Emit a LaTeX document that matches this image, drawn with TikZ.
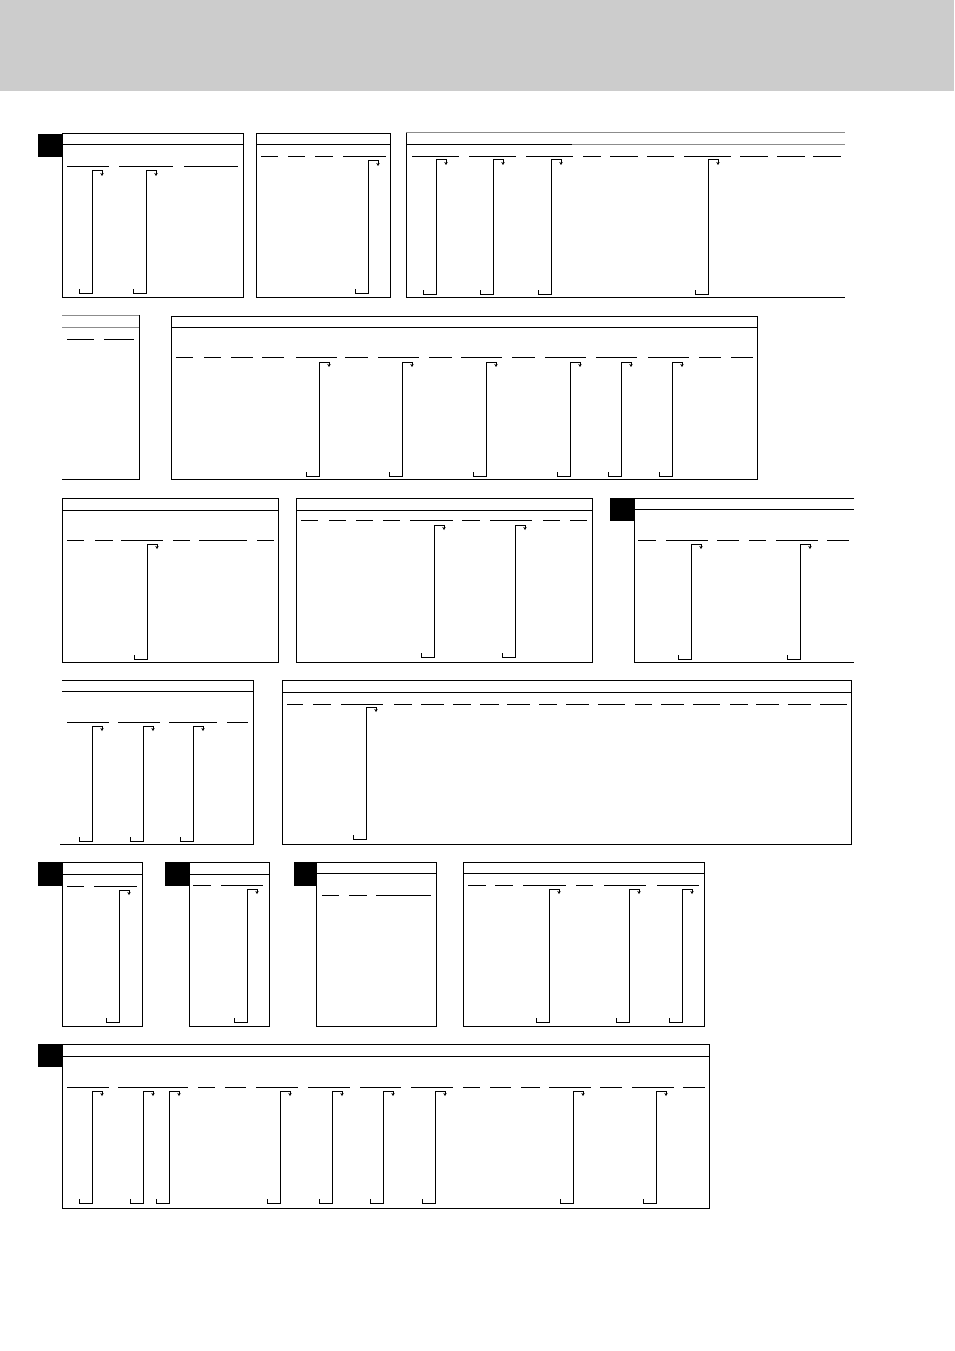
\documentclass[tikz,border=0pt]{standalone}
\usetikzlibrary{arrows.meta}
\definecolor{band}{HTML}{CCCCCC}
\definecolor{faded}{HTML}{8C8C8C}
\tikzset{
  rule/.style={line width=1pt},
  frame/.style={draw, line width=1pt},
  tab/.style={fill=black},
  hook/.style={line width=1pt, -{Stealth[length=3pt,width=3.4pt]}}
}
\newcommand\hookline[3]{%
  \draw[hook] (#1-13,#3-4) -- (#1-13,#3) -- (#1,#3) -- (#1,#2) -- (#1+10,#2) -- (#1+10,#2+5);}
\begin{document}
\begin{tikzpicture}[x=1pt,y=-1pt]
\useasboundingbox (0,0) rectangle (954,1351);
\fill[band] (0,0) rectangle (954,91);

\fill[tab] (38,134) rectangle (62,157);
\draw[frame] (62,134) rectangle (243,297);
\draw[rule] (62,145) -- (243,145);
\foreach \a/\b in {67/109, 119/173, 184/238}
  \draw[rule] (\a,167) -- (\b,167);
\foreach \v in {92, 146}
  {\hookline{\v}{171}{293}}

\draw[frame] (256,134) rectangle (390,297);
\draw[rule] (256,145) -- (390,145);
\foreach \a/\b in {261/278, 288/305, 315/333, 343/386}
  \draw[rule] (\a,157) -- (\b,157);
\hookline{368}{161}{293}

\draw[rule, faded] (406,133) -- (845,133);
\draw[rule] (406,133) -- (406,297) -- (845,297);
\draw[rule] (406,145) -- (572,145);
\draw[rule, faded] (572,145) -- (845,145);
\foreach \a/\b in {412/459, 469/516, 526/573, 583/601, 610/638, 647/674, 684/731, 740/768, 777/805, 813/841}
  \draw[rule] (\a,157) -- (\b,157);
\foreach \v in {436, 493, 551, 708}
  {\hookline{\v}{160}{294}}

\draw[rule, faded] (62,315) -- (139,315);
\draw[rule, faded] (62,327) -- (139,327);
\draw[rule] (139,315) -- (139,479) -- (62,479);
\foreach \a/\b in {67/94, 104/134}
  \draw[rule] (\a,339) -- (\b,339);

\draw[frame] (171,316) rectangle (757,479);
\draw[rule] (171,327) -- (757,327);
\foreach \a/\b in {176/193, 204/221, 231/253, 262/284, 296/337, 345/368, 378/419, 429/452, 461/502, 512/535, 545/586, 596/637, 648/689, 699/721, 731/753}
  \draw[rule] (\a,357) -- (\b,357);
\foreach \v in {319, 402, 486, 570, 621, 672}
  {\hookline{\v}{362}{476}}

\draw[frame] (62,498) rectangle (278,662);
\draw[rule] (62,510) -- (278,510);
\foreach \a/\b in {67/84, 95/113, 121/163, 173/190, 199/247, 257/274}
  \draw[rule] (\a,540) -- (\b,540);
\hookline{147}{544}{659}

\draw[frame] (296,498) rectangle (592,662);
\draw[rule] (296,510) -- (592,510);
\foreach \a/\b in {301/318, 329/346, 356/373, 383/400, 410/453, 462/480, 490/532, 543/560, 570/587}
  \draw[rule] (\a,520) -- (\b,520);
\foreach \v in {434, 515}
  {\hookline{\v}{525}{657}}

\fill[tab] (610,498) rectangle (634,521);
\draw[rule] (854,498) -- (634,498) -- (634,662) -- (854,662);
\draw[rule] (634,509) -- (854,509);
\foreach \a/\b in {638/656, 666/708, 717/739, 749/766, 776/818, 827/849}
  \draw[rule] (\a,540) -- (\b,540);
\foreach \v in {691, 800}
  {\hookline{\v}{544}{659}}

\draw[rule] (62,680) -- (253,680) -- (253,844) -- (60,844);
\draw[rule] (62,691) -- (253,691);
\foreach \a/\b in {67/109, 118/160, 169/217, 227/248}
  \draw[rule] (\a,722) -- (\b,722);
\foreach \v in {92, 143, 193}
  {\hookline{\v}{726}{841}}

\draw[frame] (282,680) rectangle (851,844);
\draw[rule] (282,692) -- (851,692);
\foreach \a/\b in {287/303, 313/331, 341/383, 394/412, 421/444, 453/471, 480/499, 507/530, 539/557, 566/589, 598/625, 635/652, 661/684, 693/720, 730/748, 756/779, 788/811, 820/847}
  \draw[rule] (\a,704) -- (\b,704);
\hookline{366}{707}{839}

\fill[tab] (38,862) rectangle (62,886);
\draw[frame] (62,862) rectangle (142,1026);
\draw[rule] (62,874) -- (142,874);
\foreach \a/\b in {67/84, 94/137}
  \draw[rule] (\a,886) -- (\b,886);
\hookline{119}{890}{1022}

\fill[tab] (165,862) rectangle (189,886);
\draw[frame] (189,862) rectangle (269,1026);
\draw[rule] (189,874) -- (269,874);
\foreach \a/\b in {193/211, 221/263}
  \draw[rule] (\a,885) -- (\b,885);
\hookline{247}{889}{1022}

\fill[tab] (294,862) rectangle (316,886);
\draw[frame] (316,862) rectangle (436,1026);
\draw[rule] (316,873) -- (436,873);
\foreach \a/\b in {322/339, 349/367, 376/431}
  \draw[rule] (\a,895) -- (\b,895);

\draw[frame] (463,862) rectangle (704,1026);
\draw[rule] (463,873) -- (704,873);
\foreach \a/\b in {468/486, 495/513, 523/566, 576/593, 604/646, 657/699}
  \draw[rule] (\a,885) -- (\b,885);
\foreach \v in {549, 629, 682}
  {\hookline{\v}{889}{1022}}

\fill[tab] (38,1044) rectangle (62,1067);
\draw[frame] (62,1044) rectangle (709,1208);
\draw[rule] (62,1056) -- (709,1056);
\foreach \a/\b in {67/109, 118/188, 198/215, 225/246, 256/298, 308/350, 360/401, 411/453, 463/480, 490/511, 521/540, 549/591, 600/622, 632/674, 683/705}
  \draw[rule] (\a,1087) -- (\b,1087);
\foreach \v in {92, 143, 169, 280, 332, 383, 435, 573, 656}
  {\hookline{\v}{1091}{1203}}
\end{tikzpicture}
\end{document}
